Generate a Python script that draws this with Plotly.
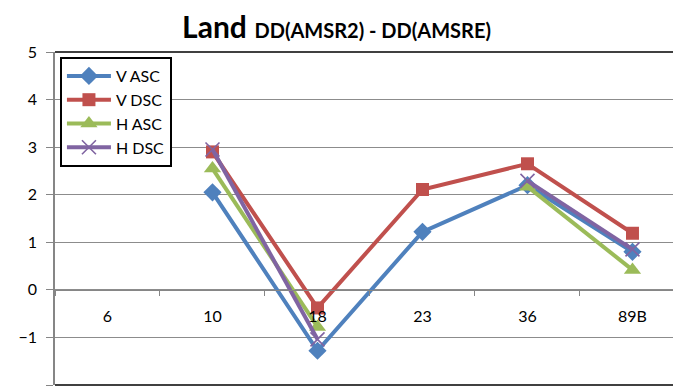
import plotly.graph_objects as go

# Channel categories and series values
channels = ["6", "10", "18", "23", "36", "89B"]
v_asc = [None, 2.05, -1.28, 1.22, 2.20, 0.80]
v_dsc = [None, 2.90, -0.38, 2.11, 2.65, 1.19]
h_asc = [None, 2.55, -0.78, None, 2.17, 0.42]
h_dsc = [None, 2.95, -1.04, None, 2.29, 0.85]

series = [
    ("V ASC", v_asc, "#4F81BD", "diamond", 14),
    ("V DSC", v_dsc, "#C0504D", "square", 13),
    ("H ASC", h_asc, "#9BBB59", "triangle-up", 15),
    ("H DSC", h_dsc, "#8064A2", "x-thin", 14),
]

FONT = "Lato"
Y_MIN, Y_MAX = -2, 5

fig = go.Figure()
for name, vals, color, sym, size in series:
    marker = dict(symbol=sym, size=size, color=color)
    if sym == "x-thin":
        marker["line"] = dict(color=color, width=1.6)
    fig.add_trace(go.Scatter(
        x=channels, y=vals, name=name, mode="lines+markers",
        line=dict(color=color, width=4), marker=marker,
        connectgaps=False,
    ))

fig.update_layout(
    width=673, height=386,
    margin=dict(l=55, r=0, t=52, b=1),
    paper_bgcolor="white", plot_bgcolor="white",
    font=dict(family=FONT, size=16, color="black"),
    title=dict(
        text="<b>Land</b> <b><span style='font-size:20px'>DD(AMSR2) - DD(AMSRE)</span></b>",
        font=dict(family=FONT, size=30, color="black"),
        x=0.5, xanchor="center", y=0.955, yanchor="top",
    ),
    showlegend=True,
    legend=dict(
        x=0.008, y=0.985, xanchor="left", yanchor="top",
        bgcolor="white", bordercolor="black", borderwidth=2,
        font=dict(family=FONT, size=16, color="black"),
        itemwidth=44, tracegroupgap=0,
    ),
    xaxis=dict(
        type="category", range=[-0.5, 5.386],
        anchor="free", position=(0 - Y_MIN) / (Y_MAX - Y_MIN),
        showline=True, linecolor="#868686", linewidth=1,
        ticks="outside", ticklen=5, tickcolor="#868686",
        tickson="boundaries", showgrid=False, zeroline=False,
        ticklabelstandoff=12,
        tickfont=dict(family=FONT, size=16, color="black"),
    ),
    yaxis=dict(
        range=[Y_MIN, Y_MAX], dtick=1, tick0=0,
        showline=True, linecolor="#868686", linewidth=1.5,
        ticks="outside", ticklen=7, tickcolor="#868686",
        showgrid=True, gridcolor="#8C8C8C", gridwidth=1,
        zeroline=False,
        tickfont=dict(family=FONT, size=16, color="black"),
        ticklabelstandoff=6,
    ),
    shapes=[
        dict(type="line", xref="paper", yref="paper", x0=0, x1=1, y0=1, y1=1,
             line=dict(color="black", width=1.5), layer="between"),
        dict(type="line", xref="paper", yref="paper", x0=0, x1=1, y0=0, y1=0,
             line=dict(color="black", width=1.5), layer="between"),
    ],
)

fig.write_html("out.html")
